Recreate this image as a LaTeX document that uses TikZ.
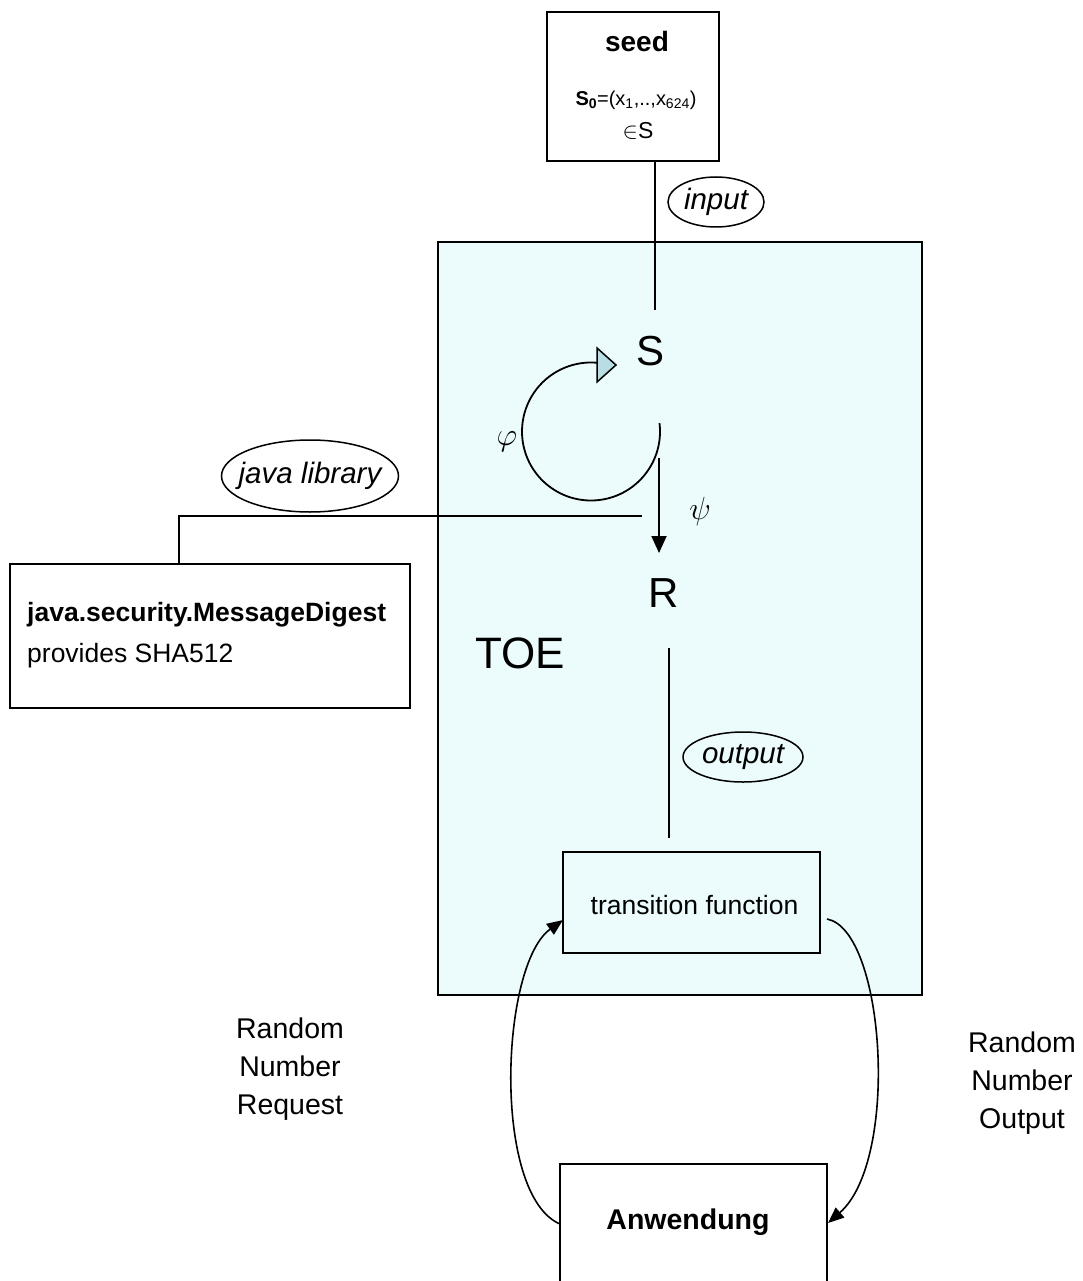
\RequirePackage{fix-cm}
\documentclass[tikz,border=0pt]{standalone}
\usepackage{fontspec}
\setmainfont{Liberation Sans}
\usetikzlibrary{shapes.geometric,arrows.meta}
\definecolor{toefill}{RGB}{236,251,251}
\definecolor{tipfill}{RGB}{184,222,228}
\begin{document}
\begin{tikzpicture}[x=1pt,y=1pt,
  box/.style={draw,line width=1.8pt,inner sep=0pt},
  lbl/.style={draw,ellipse,line width=1.5pt,inner sep=0pt,font=\fontsize{29.5}{34}\selectfont\itshape},
  conn/.style={line width=1.8pt},
  curv/.style={line width=1.6pt,-{Triangle[length=16pt,width=13pt]}},
  txt/.style={inner sep=0pt,font=\fontsize{26.5}{30}\selectfont},
  big/.style={inner sep=0pt,font=\fontsize{42}{48}\selectfont},
  greek/.style={inner sep=0pt,font=\fontsize{32}{36}\selectfont},
]
\useasboundingbox (0,0) rectangle (1083,-1281);
\clip (0,0) rectangle (1083,-1281);

% boxes
\node[box,fill=toefill,minimum width=484pt,minimum height=753pt] (toe) at (680,-618.5) {};
\node[box,minimum width=172pt,minimum height=149pt] (seed) at (633,-86.5) {};
\node[box,minimum width=400pt,minimum height=144pt] (java) at (210,-636) {};
\node[box,minimum width=257pt,minimum height=101pt] (trans) at (691.5,-902.5) {};
\node[box,minimum width=267pt,minimum height=160pt] (anw) at (693.5,-1244) {};

% seed texts
\node[txt,anchor=base,font=\fontsize{28}{32}\selectfont\bfseries] (seedt) at (637,-52) {seed};
\node[txt,anchor=base,font=\fontsize{20}{24}\selectfont] (seeds) at (636,-106)
  {\textbf{S\textsubscript{0}}=(x\textsubscript{1},..,x\textsubscript{624})};
\node[txt,anchor=base,font=\fontsize{23}{26}\selectfont] (seedin) at (638,-139) {$\in$S};

% labels (ellipses)
\node[lbl,minimum width=96pt,minimum height=50pt] (input) at (716,-202) {input};
\node[lbl,minimum width=120pt,minimum height=50pt] (output) at (743,-757) {output};
\node[lbl,inner xsep=-9pt,minimum width=177pt,minimum height=72pt] (jlib) at (310,-476) {java library};

% state letters
\node[big,anchor=base] (S) at (650,-365) {S};
\node[big,anchor=base] (R) at (664,-607) {R};
\node[txt,anchor=base,font=\fontsize{44}{50}\selectfont] (TOE) at (520,-668) {TOE};
\node[greek] (phi) at (507,-442) {$\varphi$};
\node[greek] (psi) at (700,-511) {$\psi$};

% box texts
\node[txt,anchor=base west,font=\fontsize{26.5}{30}\selectfont\bfseries] (jt1) at (27,-621) {java.security.MessageDigest};
\node[txt,anchor=base west] (jt2) at (27,-662) {provides SHA512};
\node[txt,anchor=base] (tt) at (694.5,-914) {transition function};
\node[txt,anchor=base,font=\fontsize{28.5}{32}\selectfont\bfseries] (at) at (688,-1229) {Anwendung};

\node[txt,align=center,font=\fontsize{28.5}{38}\selectfont] (req) at (290,-1069) {Random\\Number\\Request};
\node[txt,align=center,font=\fontsize{28.5}{38}\selectfont] (out) at (1022,-1083) {Random\\Number\\Output};

% connectors
\coordinate (sTop) at (655,-310);
\draw[conn] (seed.south -| sTop) -- (sTop);

\draw[conn] (591,-431.5) ++(7:69) arc[start angle=7, end angle=-275, radius=69];
\draw[line width=1.5pt,fill=tipfill,line join=miter] (597,-348) -- (616,-365) -- (597,-382) -- cycle;

\coordinate (psiA) at (659,-458);
\coordinate (psiB) at (659,-553);
\draw[conn,-{Triangle[length=17pt,width=15pt]}] (psiA) -- (psiB);

\coordinate (jl) at (642,-516);
\coordinate (jc) at (179,-516);
\draw[conn] (jl) -- (jc) -- (jc |- java.north);

\coordinate (rOut) at (669,-648);
\coordinate (tIn) at (669,-838);
\draw[conn] (rOut) -- (tIn);

\coordinate (aL) at (560,-1224);
\coordinate (tL) at (563,-920);
\coordinate (tR) at (827,-919);
\coordinate (aR) at (828,-1223);
\draw[curv] (aL) .. controls (492,-1195) and (500,-965) .. (tL);
\draw[curv] (tR) .. controls (885,-930) and (900,-1160) .. (aR);
\end{tikzpicture}
\end{document}
